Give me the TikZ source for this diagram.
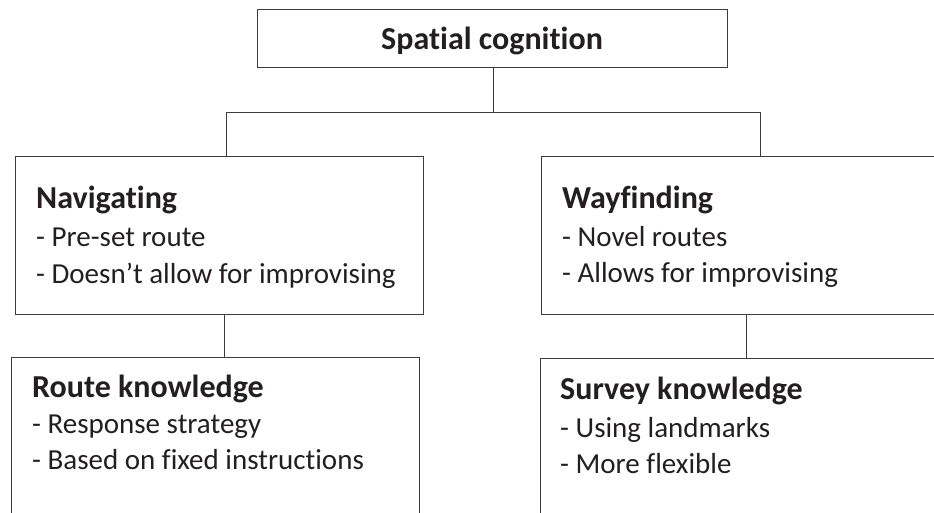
\documentclass[tikz,border=0pt]{standalone}
\usepackage{fontspec}
\setmainfont[Ligatures={NoCommon,TeX}]{Carlito}
\definecolor{ink}{HTML}{231F20}
\definecolor{edge}{HTML}{3C3C3C}
\begin{document}
\begin{tikzpicture}[x=1pt,y=-1pt,
  box/.style={draw=edge,line width=0.9pt,rectangle,inner sep=0pt,anchor=north west},
  link/.style={draw=edge,line width=0.9pt},
  txt/.style={anchor=base west,inner sep=0pt,text=ink,font=\fontsize{29}{35}\selectfont},
  head/.style={txt,font=\fontsize{32}{38}\selectfont\bfseries}]
\useasboundingbox (0,0) rectangle (934,513);
\clip (0,0) rectangle (934,513);
\node[box,minimum width=470.6pt,minimum height=58pt] (top) at (256.7,9.3) {};
\node[box,minimum width=408.3pt,minimum height=157.8pt] (nav) at (14.7,155.7) {};
\node[box,minimum width=420pt,minimum height=157.8pt] (way) at (541,155.7) {};
\node[box,minimum width=408pt,minimum height=180pt] (route) at (11.3,357.3) {};
\node[box,minimum width=420pt,minimum height=180pt] (survey) at (540,358.3) {};
\node[head,anchor=base] (ttop) at (492,50) {Spatial cognition};
\node[head] (tnav) at (36,208.3) {Navigating};
\node[txt] (tnav1) at (36,246.7) {- Pre-set route};
\node[txt] (tnav2) at (36,283.3) {- Doesn’t allow for improvising};
\node[head] (tway) at (562,208) {Wayfinding};
\node[txt] (tway1) at (562,246) {- Novel routes};
\node[txt] (tway2) at (562,282) {- Allows for improvising};
\node[head] (troute) at (32,397.3) {Route knowledge};
\node[txt] (troute1) at (32,433) {- Response strategy};
\node[txt] (troute2) at (32,469) {- Based on fixed instructions};
\node[head] (tsurvey) at (560,399) {Survey knowledge};
\node[txt] (tsurvey1) at (560,437.7) {- Using landmarks};
\node[txt] (tsurvey2) at (560,473) {- More flexible};
\coordinate (jm) at (493.3,112);
\coordinate (jl) at (226,112);
\coordinate (jr) at (760,112);
\coordinate (bl) at (224,0);
\coordinate (br) at (746,0);
\draw[link] (jm |- top.south) -- (jm);
\draw[link] (jl) -- (jr);
\draw[link] (jl) -- (jl |- nav.north);
\draw[link] (jr) -- (jr |- way.north);
\draw[link] (bl |- nav.south) -- (bl |- route.north);
\draw[link] (br |- way.south) -- (br |- survey.north);
\end{tikzpicture}
\end{document}
